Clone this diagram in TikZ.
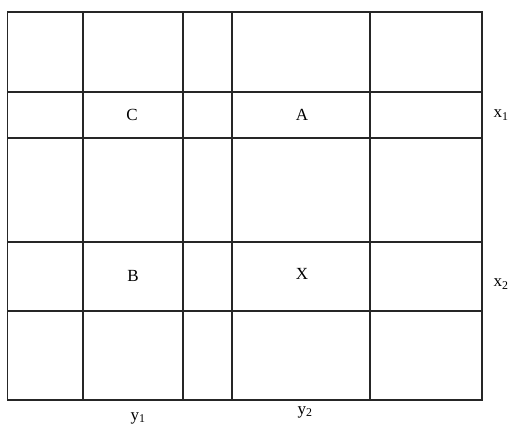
\documentclass[tikz,border=0pt]{standalone}
\usepackage{fontspec}
\setmainfont{Liberation Serif}
\begin{document}
\begin{tikzpicture}[x=1pt,y=-1pt,
  gridline/.style={draw=black!85,line width=1.1pt},
  lbl/.style={font=\fontsize{17}{19}\selectfont,inner sep=0pt}]
\useasboundingbox (0,0) rectangle (510,426);
% vertical lines
\foreach \x in {83,183,232,370}
  \draw[gridline] (\x,12) -- (\x,400);
% horizontal lines
\foreach \y in {92,138,242,311}
  \draw[gridline] (7.5,\y) -- (482,\y);
\draw[gridline] (7.5,12) rectangle (482,400);
\node[lbl] (C) at (132,115) {C};
\node[lbl] (A) at (302,115) {A};
\node[lbl] (B) at (133,276) {B};
\node[lbl] (X) at (302,274) {X};
\node[lbl] (x1) at (501,115) {x\textsubscript{1}};
\node[lbl] (x2) at (501,284) {x\textsubscript{2}};
\node[lbl] (y1) at (138,418) {y\textsubscript{1}};
\node[lbl] (y2) at (305,412) {y\textsubscript{2}};
\end{tikzpicture}
\end{document}
